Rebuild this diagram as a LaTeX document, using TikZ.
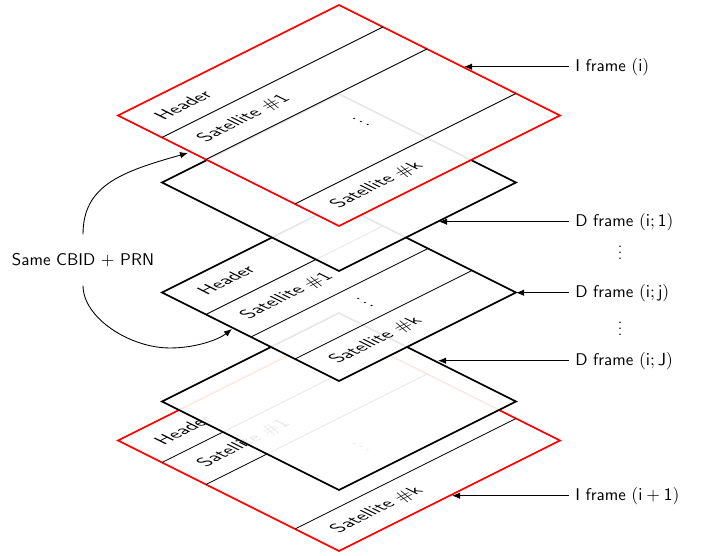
\documentclass[tikz,border=0pt]{standalone}
\usetikzlibrary{arrows.meta}
\renewcommand{\familydefault}{\sfdefault}
\tikzset{
  framebase/.style={fill=white,fill opacity=0.91,line width=1.1pt,line join=miter},
  iframe/.style={framebase,draw=red},
  dframe/.style={framebase,draw=black},
  band/.style={black,line width=0.55pt},
  lbl/.style={transform shape,scale=1.06,inner sep=0pt,text=black},
  side/.style={anchor=west,inner sep=0pt,text=black,font=\fontsize{10.6}{12}\selectfont,transform shape},
  pointer/.style={-{Latex[length=5pt,width=4pt]},line width=0.6pt,black},
  curved/.style={-{Latex[length=5pt,width=4pt]},line width=0.55pt,black}
}
\DeclareMathSizes{10.6}{10.6}{7.4}{5.3}
% #1 prefix, #2 y of the bottom corner
\newcommand{\IFrame}[2]{%
  \begin{scope}[cm={1,0.5,-1,0.5,(339,#2)}]
    \draw[iframe] (0,0) rectangle (221,221);
    \coordinate (#1a) at (0,177); \coordinate (#1b) at (221,177);
    \coordinate (#1c) at (0,133); \coordinate (#1d) at (221,133);
    \coordinate (#1e) at (0,44);  \coordinate (#1f) at (221,44);
    \draw[band] (#1a) -- (#1b);
    \draw[band] (#1c) -- (#1d);
    \draw[band] (#1e) -- (#1f);
    \node[lbl] (#1h) at (43,199) {Header};
    \node[lbl] (#1s) at (60,155) {Satellite \#1};
    \node[lbl] (#1m) at (115,98) {$\vdots$};
    \node[lbl] (#1k) at (60,22) {Satellite \#k};
  \end{scope}}
\begin{document}
\begin{tikzpicture}[x=0.625pt,y=0.625pt]
\useasboundingbox (0,0) rectangle (704,556);
% bottom to top
\IFrame{p}{5}
\begin{scope}[cm={1,0.5,-1,0.5,(339,66)}]
  \draw[dframe] (0,0) rectangle (177,177);
\end{scope}
\begin{scope}[cm={1,0.5,-1,0.5,(339,175)}]
  \draw[dframe] (0,0) rectangle (177,177);
  \coordinate (qa) at (0,133); \coordinate (qb) at (177,133);
  \coordinate (qc) at (0,88);  \coordinate (qd) at (177,88);
  \coordinate (qe) at (0,44);  \coordinate (qf) at (177,44);
  \draw[band] (qa) -- (qb);
  \draw[band] (qc) -- (qd);
  \draw[band] (qe) -- (qf);
  \node[lbl] (qh) at (44.5,157.5) {Header};
  \node[lbl] (qs) at (59,111) {Satellite \#1};
  \node[lbl] (qm) at (91.5,70.5) {$\vdots$};
  \node[lbl] (qk) at (59,22) {Satellite \#k};
\end{scope}
\begin{scope}[cm={1,0.5,-1,0.5,(339,285)}]
  \draw[dframe] (0,0) rectangle (177,177);
\end{scope}
\IFrame{t}{330}
% side labels
\node[side] (l1) at (575,489.3) {I frame $\mathsf{(i)}$};
\node[side] (l2) at (575,334.3) {D frame $\mathsf{(i;1)}$};
\node[side] (l3) at (575,263.3) {D frame $\mathsf{(i;j)}$};
\node[side] (l4) at (575,195.3) {D frame $\mathsf{(i;J)}$};
\node[side] (l5) at (575,60.3)  {I frame $\mathsf{(i+1)}$};
\node[inner sep=0pt] (v1) at (620,308) {$\vdots$};
\node[inner sep=0pt] (v2) at (620,232) {$\vdots$};
\coordinate (c1) at (464,489.3);
\coordinate (c2) at (439,334.3);
\coordinate (c3) at (516,263.3);
\coordinate (c4) at (438,195.3);
\coordinate (c5) at (452,60.3);
\draw[pointer] ([xshift=-3.75pt]l1.west) -- (c1);
\draw[pointer] ([xshift=-3.75pt]l2.west) -- (c2);
\draw[pointer] ([xshift=-3.75pt]l3.west) -- (c3);
\draw[pointer] ([xshift=-3.75pt]l4.west) -- (c4);
\draw[pointer] ([xshift=-3.75pt]l5.west) -- (c5);
% same CBID
\node[inner xsep=0pt,inner ysep=11.5pt,text=black,font=\fontsize{10.6}{12}\selectfont] (cbid) at (83,296) {Same CBID $+$ PRN};
\coordinate (u1) at (188,403);
\coordinate (u2) at (232,227);
\draw[curved] (cbid.north) .. controls (83,370) and (120,384) .. (u1);
\draw[curved] (cbid.south) .. controls (83,238) and (130,208) .. (170,208) .. controls (195,208) and (218,216) .. (u2);
\end{tikzpicture}
\end{document}
